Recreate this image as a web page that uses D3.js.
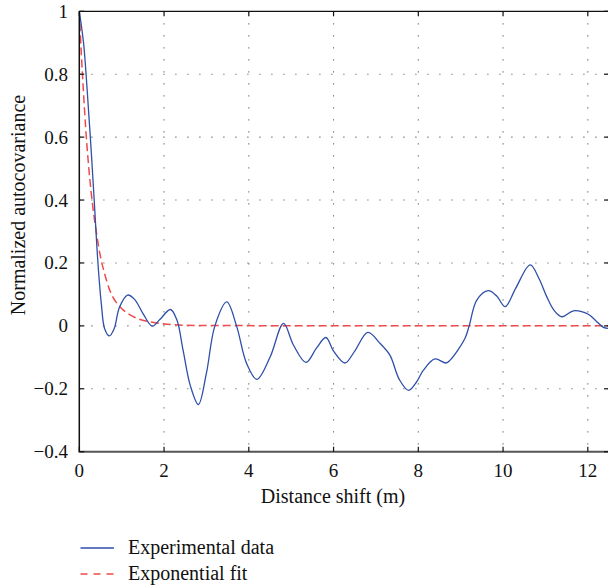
<!DOCTYPE html>
<html>
<head>
<meta charset="utf-8">
<script src="https://cdn.jsdelivr.net/npm/d3@7"></script>
<style>
  body { margin: 0; background: #fff; }
  svg { display: block; font-family: "Liberation Serif", "DejaVu Serif", serif; }
</style>
</head>
<body>
<svg id="chart" width="608" height="588"></svg>
<script>
// ── Data ──────────────────────────────────────────────────────────────────
const expX = [0, 0.1, 0.16, 0.22, 0.27, 0.32, 0.36, 0.44, 0.52, 0.6, 0.71, 0.82, 0.95,
  1.14, 1.3, 1.5, 1.72, 1.9, 2.15, 2.3, 2.45, 2.62, 2.81, 3.0, 3.2, 3.48, 3.71, 3.95,
  4.19, 4.5, 4.82, 5.05, 5.35, 5.6, 5.82, 6.0, 6.27, 6.5, 6.81, 7.1, 7.33, 7.55, 7.77,
  7.95, 8.12, 8.39, 8.65, 8.75, 9.1, 9.2, 9.38, 9.65, 9.85, 10.05, 10.3, 10.64, 10.85,
  11.03, 11.2, 11.39, 11.66, 12.01, 12.2, 12.37, 12.5];
const expY = [1, 0.9, 0.8, 0.68, 0.58, 0.47, 0.38, 0.2, 0.07, -0.01, -0.032, -0.01, 0.06,
  0.098, 0.085, 0.04, -0.001, 0.02, 0.052, 0.02, -0.078, -0.19, -0.25, -0.15, 0, 0.076, 0, -0.12,
  -0.17, -0.1, 0.008, -0.06, -0.116, -0.07, -0.037, -0.08, -0.118, -0.08, -0.021, -0.056, -0.093, -0.17, -0.205,
  -0.18, -0.141, -0.105, -0.118, -0.109, -0.04, 0, 0.082, 0.112, 0.095, 0.061, 0.12, 0.194, 0.15,
  0.093, 0.05, 0.029, 0.048, 0.037, 0.015, -0.005, -0.008];

const fitX = [0, 0.05, 0.1, 0.15, 0.2, 0.3, 0.4, 0.5, 0.6, 0.7, 0.8, 1.0, 1.2, 1.4, 1.7, 2.0, 2.5, 3.0, 12.5];
const fitY = [1, 0.86, 0.74, 0.63, 0.54, 0.40, 0.30, 0.22, 0.165, 0.12, 0.09, 0.055, 0.035, 0.022, 0.012, 0.006, 0.002, 0.001, 0];

const xTicks = [0, 2, 4, 6, 8, 10, 12];
const yTicks = [-0.4, -0.2, 0, 0.2, 0.4, 0.6, 0.8, 1];
const legendLabels = ['Experimental data', 'Exponential fit'];

// ── Layout ────────────────────────────────────────────────────────────────
const plot = { left: 79.3, right: 609, top: 11.3, bottom: 451.7 };
const BLUE = '#2f4fa8', RED = '#f04a4a';

const svg = d3.select('#chart');
const x = d3.scaleLinear().domain([0, 12.5]).range([plot.left, plot.right]);
const y = d3.scaleLinear().domain([-0.4, 1]).range([plot.bottom, plot.top]);

// ── Grid (dotted) ─────────────────────────────────────────────────────────
const grid = svg.append('g').attr('stroke', '#666').attr('stroke-width', 1.1)
  .attr('stroke-dasharray', '1.2,10.8');
grid.selectAll('line.v').data(xTicks.filter(d => d > 0)).join('line')
  .attr('x1', d => x(d)).attr('x2', d => x(d))
  .attr('y1', plot.top).attr('y2', plot.bottom);
grid.selectAll('line.h').data(yTicks.filter(d => d > -0.4 && d < 1)).join('line')
  .attr('x1', plot.left).attr('x2', plot.right)
  .attr('y1', d => y(d)).attr('y2', d => y(d));

// ── Curves ────────────────────────────────────────────────────────────────
const clip = svg.append('clipPath').attr('id', 'clip').append('rect')
  .attr('x', plot.left).attr('y', plot.top - 2)
  .attr('width', plot.right - plot.left).attr('height', plot.bottom - plot.top + 2);

const fitLine = d3.line().x(i => x(fitX[i])).y(i => y(fitY[i])).curve(d3.curveMonotoneX);
svg.append('path')
  .attr('d', fitLine(d3.range(fitX.length)))
  .attr('fill', 'none').attr('stroke', RED).attr('stroke-width', 1.5)
  .attr('stroke-dasharray', '8,4').attr('clip-path', 'url(#clip)');

const expLine = d3.line().x(i => x(expX[i])).y(i => y(expY[i])).curve(d3.curveCatmullRom.alpha(0.5));
svg.append('path')
  .attr('d', expLine(d3.range(expX.length)))
  .attr('fill', 'none').attr('stroke', BLUE).attr('stroke-width', 1.3)
  .attr('clip-path', 'url(#clip)');

// ── Axes / frame ──────────────────────────────────────────────────────────
const frame = svg.append('g').attr('fill', 'none');
frame.append('line').attr('x1', plot.left).attr('x2', plot.right)
  .attr('y1', plot.top).attr('y2', plot.top).attr('stroke', '#111').attr('stroke-width', 1.3);
frame.append('line').attr('x1', plot.left).attr('x2', plot.left)
  .attr('y1', plot.top).attr('y2', plot.bottom).attr('stroke', '#111').attr('stroke-width', 1.5);
frame.append('line').attr('x1', plot.left - 0.7).attr('x2', plot.right)
  .attr('y1', plot.bottom).attr('y2', plot.bottom).attr('stroke', '#555').attr('stroke-width', 2);

const ticks = svg.append('g').attr('stroke', '#111').attr('stroke-width', 1.2);
xTicks.forEach(d => {
  ticks.append('line').attr('x1', x(d)).attr('x2', x(d)).attr('y1', plot.bottom).attr('y2', plot.bottom - 5);
  ticks.append('line').attr('x1', x(d)).attr('x2', x(d)).attr('y1', plot.top).attr('y2', plot.top + 5);
});
yTicks.forEach(d => {
  ticks.append('line').attr('x1', plot.left).attr('x2', plot.left + 5).attr('y1', y(d)).attr('y2', y(d));
  ticks.append('line').attr('x1', plot.right).attr('x2', plot.right - 5).attr('y1', y(d)).attr('y2', y(d));
});

const fmt = d => (d < 0 ? '\u2212' : '') + (Math.abs(d) === 1 || d === 0 ? String(Math.abs(d)) : Math.abs(d).toFixed(1));

svg.append('g').selectAll('text').data(yTicks).join('text')
  .attr('x', 68).attr('y', d => y(d)).attr('dy', '0.34em')
  .attr('text-anchor', 'end').attr('font-size', 19).attr('fill', '#111')
  .text(fmt);

svg.append('g').selectAll('text').data(xTicks).join('text')
  .attr('x', d => x(d)).attr('y', 477)
  .attr('text-anchor', 'middle').attr('font-size', 19).attr('fill', '#111')
  .text(d => d);

svg.append('text').attr('x', 333).attr('y', 503)
  .attr('text-anchor', 'middle').attr('font-size', 20).attr('fill', '#111')
  .text('Distance shift (m)');

svg.append('text').attr('transform', 'translate(25,205) rotate(-90)')
  .attr('text-anchor', 'middle').attr('font-size', 20).attr('fill', '#111')
  .text('Normalized autocovariance');

// ── Legend ────────────────────────────────────────────────────────────────
const legend = svg.append('g');
const legendY = [548, 574];
legendLabels.forEach((lab, i) => {
  legend.append('line').attr('x1', 80.5).attr('x2', 114).attr('y1', legendY[i]).attr('y2', legendY[i])
    .attr('stroke', i === 0 ? BLUE : RED).attr('stroke-width', i === 0 ? 1.3 : 1.5)
    .attr('stroke-dasharray', i === 0 ? null : '7,6');
  legend.append('text').attr('x', 128).attr('y', legendY[i]).attr('dy', '0.32em')
    .attr('font-size', 20).attr('fill', '#111').text(lab);
});
</script>
</body>
</html>
